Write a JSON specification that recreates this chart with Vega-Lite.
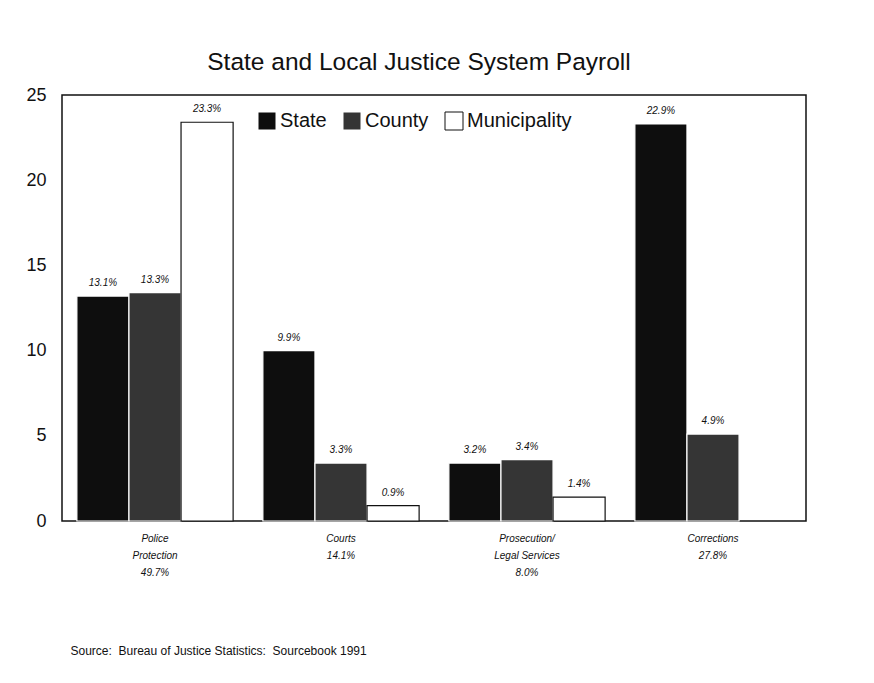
{
  "$schema": "https://vega.github.io/schema/vega-lite/v6.json",
  "width": 744,
  "height": 426,
  "autosize": "none",
  "padding": {"left": 62, "top": 95, "right": 68, "bottom": 162},
  "background": "white",
  "title": {
    "text": "State and Local Justice System Payroll",
    "fontSize": 24.5,
    "font": "Liberation Sans",
    "fontWeight": "normal",
    "color": "#111111",
    "anchor": "middle",
    "dx": -15,
    "offset": 11
  },
  "data": {
    "values": [
      {"function": "Police Protection", "government": "State", "payroll": 13.2, "label": "13.1%"},
      {"function": "Police Protection", "government": "County", "payroll": 13.4, "label": "13.3%"},
      {"function": "Police Protection", "government": "Municipality", "payroll": 23.4, "label": "23.3%"},
      {"function": "Courts", "government": "State", "payroll": 10.0, "label": "9.9%"},
      {"function": "Courts", "government": "County", "payroll": 3.4, "label": "3.3%"},
      {"function": "Courts", "government": "Municipality", "payroll": 0.9, "label": "0.9%"},
      {"function": "Prosecution/Legal Services", "government": "State", "payroll": 3.4, "label": "3.2%"},
      {"function": "Prosecution/Legal Services", "government": "County", "payroll": 3.6, "label": "3.4%"},
      {"function": "Prosecution/Legal Services", "government": "Municipality", "payroll": 1.4, "label": "1.4%"},
      {"function": "Corrections", "government": "State", "payroll": 23.3, "label": "22.9%"},
      {"function": "Corrections", "government": "County", "payroll": 5.1, "label": "4.9%"}
    ]
  },
  "encoding": {
    "x": {
      "field": "function",
      "type": "nominal",
      "sort": ["Police Protection", "Courts", "Prosecution/Legal Services", "Corrections"],
      "scale": {"paddingInner": 0.16, "paddingOuter": 0.08},
      "axis": {
        "labelAngle": 0,
        "labelFont": "Liberation Sans",
        "labelFontStyle": "italic",
        "labelFontSize": 10,
        "labelColor": "#111111",
        "labelLineHeight": 17,
        "labelPadding": 12,
        "ticks": false,
        "domain": false,
        "labelExpr": "datum.value == 'Police Protection' ? ['Police', 'Protection', '49.7%'] : datum.value == 'Courts' ? ['Courts', '14.1%'] : datum.value == 'Prosecution/Legal Services' ? ['Prosecution/', 'Legal Services', '8.0%'] : ['Corrections', '27.8%']",
        "title": "Source:\u00a0 Bureau of Justice Statistics:\u00a0 Sourcebook 1991",
        "titleFont": "Liberation Sans",
        "titleFontSize": 12,
        "titleFontWeight": "normal",
        "titleColor": "#111111",
        "titleAlign": "left",
        "titleAnchor": "start",
        "titleBaseline": "middle",
        "titleX": 8,
        "titleY": 129
      }
    },
    "xOffset": {"field": "government", "type": "nominal", "sort": ["State", "County", "Municipality"]},
    "y": {
      "field": "payroll",
      "type": "quantitative",
      "scale": {"domain": [0, 25], "nice": false},
      "axis": {
        "values": [0, 5, 10, 15, 20, 25],
        "labelFont": "Liberation Sans",
        "labelFontSize": 18,
        "labelColor": "#111111",
        "labelPadding": 16,
        "ticks": false,
        "domain": false,
        "grid": false,
        "title": null
      }
    }
  },
  "layer": [
    {
      "mark": {"type": "bar", "strokeWidth": 1.2},
      "encoding": {
        "color": {
          "field": "government",
          "type": "nominal",
          "sort": ["State", "County", "Municipality"],
          "scale": {"domain": ["State", "County", "Municipality"], "range": ["#0e0e0e", "#353535", "#ffffff"]},
          "legend": {
            "orient": "none",
            "legendX": 195,
            "legendY": 16,
            "direction": "horizontal",
            "title": null,
            "symbolType": "square",
            "symbolSize": 324,
            "symbolStrokeColor": "#111111",
            "symbolStrokeWidth": 1,
            "labelFont": "Liberation Sans",
            "labelFontSize": 20,
            "labelColor": "#111111",
            "labelOffset": 3,
            "columnPadding": 14
          }
        },
        "stroke": {
          "field": "government",
          "type": "nominal",
          "scale": {"domain": ["State", "County", "Municipality"], "range": ["#ffffff", "#ffffff", "#111111"]},
          "legend": null
        }
      }
    },
    {
      "mark": {
        "type": "text",
        "baseline": "bottom",
        "dy": -8,
        "font": "Liberation Sans",
        "fontStyle": "italic",
        "fontSize": 10,
        "color": "#111111"
      },
      "encoding": {"text": {"field": "label", "type": "nominal"}}
    }
  ],
  "config": {
    "view": {"stroke": "#111111", "strokeWidth": 1.5}
  }
}
